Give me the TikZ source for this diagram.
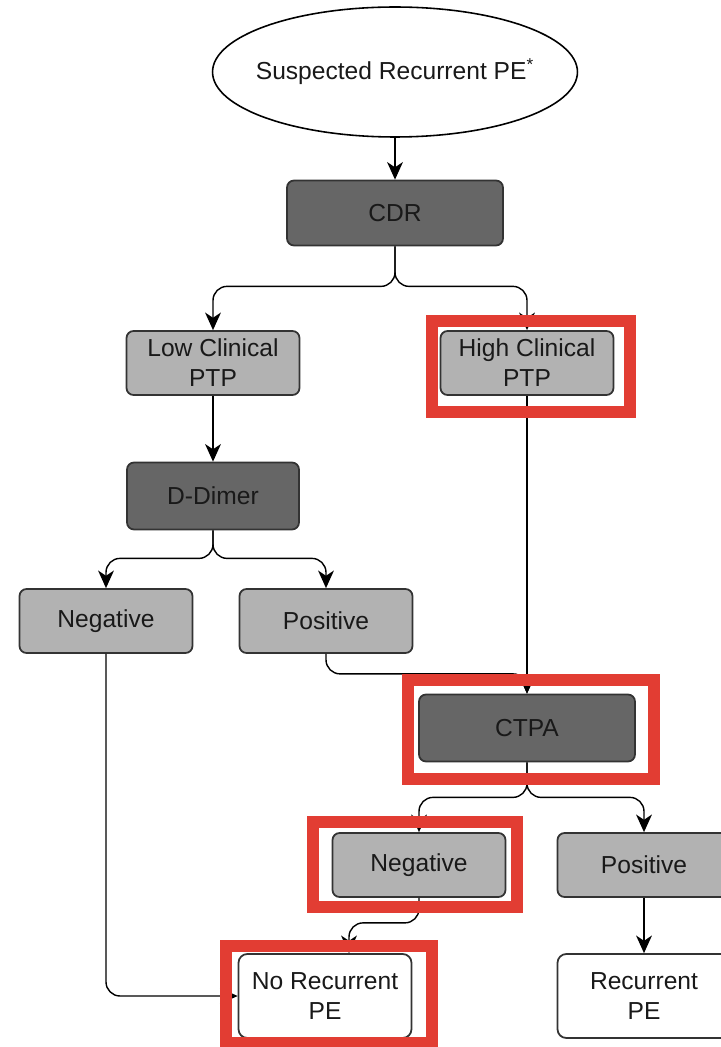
\documentclass[tikz,border=0pt]{standalone}
\usepackage{fontspec}
\setmainfont{Liberation Sans}
\usetikzlibrary{arrows.meta,shapes.geometric}

\definecolor{darkfill}{gray}{0.40}
\definecolor{lightfill}{gray}{0.70}
\definecolor{markred}{RGB}{226,61,51}

\tikzset{
  every node/.style={font=\fontsize{14}{17}\selectfont, text=black!90, align=center},
  start/.style={ellipse, draw, line width=0.9pt, inner sep=0pt, minimum width=7.3cm, minimum height=2.6cm},
  darkbox/.style={draw=black!80, fill=darkfill, rounded corners=4pt, line width=1pt,
    minimum width=4.32cm, minimum height=1.3cm},
  lightbox/.style={draw=black!80, fill=lightfill, rounded corners=4pt, line width=1pt,
    minimum width=3.46cm, minimum height=1.28cm},
  endbox/.style={draw=black!80, fill=white, rounded corners=5pt, line width=1pt,
    minimum width=3.46cm, minimum height=1.68cm},
  link/.style={line width=0.8pt, rounded corners=8pt, -{Stealth[length=10pt,width=9pt,inset=3pt]}},
  redframe/.style={draw=markred, line width=0.24cm}
}

\begin{document}
\begin{tikzpicture}[x=0.02cm, y=-0.02cm]
  \useasboundingbox (0,0) rectangle (720,1047);

  \node[start] (suspect) at (395,72) {\makebox[0pt]{Suspected Recurrent PE\textsuperscript{*}}};
  \node[darkbox] (cdr) at (395,213) {CDR};

  \node[lightbox] (low) at (213,363) {Low Clinical\\PTP};
  \node[lightbox] (high) at (527,363) {High Clinical\\PTP};

  \node[darkbox, minimum width=3.44cm, minimum height=1.34cm] (ddimer) at (213,496) {D-Dimer};

  \node[lightbox] (dneg) at (106,621) {Negative};
  \node[lightbox] (dpos) at (326,621) {Positive};

  \node[darkbox, minimum height=1.34cm] (ctpa) at (527,728) {CTPA};

  \node[lightbox] (cneg) at (419,865) {Negative};
  \node[lightbox] (cpos) at (644,865) {Positive};

  \node[endbox] (norec) at (325,996) {No Recurrent\\PE};
  \node[endbox] (rec) at (644,996) {Recurrent\\PE};

  % connectors
  \draw[link] (suspect.south) -- (cdr.north);
  \draw[link] (cdr.south) -- ++(0,40) -| (low.north);
  \draw[link] (cdr.south) -- ++(0,40) -| (high.north);
  \draw[link] (low.south) -- (ddimer.north);
  \draw[link] (ddimer.south) -- ++(0,28) -| (dneg.north);
  \draw[link] (ddimer.south) -- ++(0,28) -| (dpos.north);
  \draw[link] (high.south) -- (ctpa.north);
  \draw[link] (dpos.south) -- ++(0,20) -| (ctpa.north);
  \draw[link] (ctpa.south) -- ++(0,35) -| (cneg.north);
  \draw[link] (ctpa.south) -- ++(0,35) -| (cpos.north);
  \draw[link] (cneg.south) -- ++(0,25) -| ([xshift=0.48cm]norec.north);
  \draw[link] (dneg.south) |- (norec.west);
  \draw[link] (cpos.south) -- (rec.north);

  % highlights
  \draw[redframe] (432,321) rectangle (630,412);
  \draw[redframe] (408,680) rectangle (654,779);
  \draw[redframe] (313,822) rectangle (517,907);
  \draw[redframe] (226,946) rectangle (432,1043);
\end{tikzpicture}
\end{document}
